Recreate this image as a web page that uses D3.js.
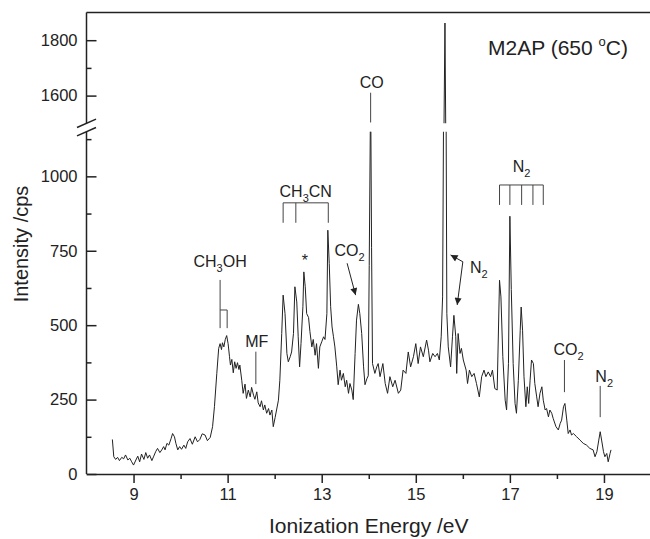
<!DOCTYPE html>
<html>
<head>
<meta charset="utf-8">
<script src="https://cdn.jsdelivr.net/npm/d3@7"></script>
<style>
	body { margin: 0; background: #fff; }
	text { font-family: "Liberation Sans", Arial, sans-serif; fill: #222; }
</style>
</head>
<body>
<svg></svg>
<script>

// spectrum: ionization energy (eV) and counts
const energy = [
	8.55, 8.58, 8.62, 8.66, 8.70, 8.75, 8.79, 8.83, 8.88, 8.92, 8.96, 9.00, 9.05, 9.09, 9.13, 9.17, 9.22, 9.26, 9.30, 9.34,
	9.39, 9.43, 9.47, 9.51, 9.56, 9.60, 9.64, 9.67, 9.71, 9.75, 9.80, 9.83, 9.87, 9.90, 9.94, 9.98, 10.02, 10.07, 10.11, 10.15,
	10.20, 10.25, 10.31, 10.36, 10.41, 10.46, 10.52, 10.57, 10.63, 10.68, 10.72, 10.77, 10.81, 10.84, 10.87, 10.89, 10.92, 10.95, 10.98, 11.01,
	11.04, 11.06, 11.09, 11.12, 11.15, 11.18, 11.21, 11.24, 11.26, 11.30, 11.33, 11.37, 11.40, 11.44, 11.48, 11.51, 11.55, 11.58, 11.62, 11.65,
	11.69, 11.72, 11.76, 11.79, 11.83, 11.87, 11.90, 11.94, 11.97, 12.01, 12.04, 12.08, 12.11, 12.15, 12.18, 12.22, 12.26, 12.29, 12.33, 12.36,
	12.40, 12.43, 12.47, 12.50, 12.53, 12.56, 12.60, 12.62, 12.65, 12.68, 12.72, 12.75, 12.79, 12.82, 12.86, 12.89, 12.93, 12.96, 13.00, 13.04,
	13.07, 13.11, 13.13, 13.16, 13.19, 13.22, 13.25, 13.28, 13.32, 13.35, 13.39, 13.42, 13.46, 13.50, 13.53, 13.57, 13.60, 13.64, 13.67, 13.71,
	13.74, 13.78, 13.81, 13.85, 13.89, 13.92, 13.96, 13.99, 14.01, 14.04, 14.06, 14.08, 14.13, 14.17, 14.20, 14.24, 14.30, 14.35, 14.40, 14.45,
	14.51, 14.56, 14.63, 14.68, 14.73, 14.79, 14.84, 14.89, 14.95, 15.00, 15.05, 15.10, 15.16, 15.23, 15.27, 15.30, 15.36, 15.41, 15.46, 15.50,
	15.54, 15.57, 15.60, 15.62, 15.64, 15.66, 15.69, 15.74, 15.78, 15.81, 15.85, 15.87, 15.90, 15.94, 15.97, 16.01, 16.07, 16.10, 16.14, 16.19,
	16.24, 16.29, 16.35, 16.40, 16.45, 16.49, 16.54, 16.59, 16.63, 16.68, 16.73, 16.78, 16.81, 16.85, 16.90, 16.93, 16.97, 17.00, 17.03, 17.07,
	17.11, 17.14, 17.18, 17.22, 17.24, 17.27, 17.30, 17.34, 17.37, 17.40, 17.43, 17.46, 17.50, 17.53, 17.57, 17.60, 17.64, 17.68, 17.71, 17.75,
	17.78, 17.82, 17.85, 17.89, 17.92, 17.98, 18.03, 18.07, 18.10, 18.14, 18.17, 18.21, 18.24, 18.28, 18.31, 18.35, 18.42, 18.49, 18.56, 18.63,
	18.70, 18.77, 18.81, 18.85, 18.89, 18.92, 18.95, 18.99, 19.02, 19.06, 19.09, 19.13, 19.15
];
const intensity = [
	116, 58, 49, 56, 45, 56, 51, 64, 47, 53, 41, 30, 47, 60, 41, 67, 49, 72, 53, 64,
	45, 60, 75, 86, 72, 81, 92, 81, 103, 97, 120, 136, 125, 103, 81, 92, 83, 97, 86, 108,
	119, 100, 125, 108, 116, 135, 131, 112, 123, 159, 226, 338, 422, 438, 418, 441, 427, 452, 465, 438,
	394, 366, 385, 340, 377, 355, 374, 351, 366, 315, 271, 302, 254, 282, 259, 291, 265, 251, 276, 239,
	226, 246, 215, 232, 204, 220, 198, 215, 159, 190, 215, 248, 315, 472, 601, 539, 405, 377, 394, 410,
	472, 629, 578, 461, 360, 438, 562, 679, 629, 539, 526, 478, 427, 452, 399, 438, 355, 427, 444, 461,
	452, 539, 819, 707, 562, 494, 461, 427, 360, 300, 349, 315, 338, 293, 315, 271, 304, 282, 250, 405,
	517, 570, 539, 472, 360, 300, 320, 330, 700, 1300, 760, 371, 338, 360, 371, 327, 371, 304, 271, 327,
	293, 315, 271, 282, 349, 338, 410, 360, 394, 438, 371, 427, 394, 450, 416, 377, 405, 394, 405, 383,
	461, 595, 1500, 1862, 1400, 539, 427, 360, 461, 533, 461, 338, 472, 405, 422, 383, 349, 304, 349, 327,
	338, 304, 259, 327, 349, 327, 343, 327, 349, 287, 282, 651, 595, 394, 248, 215, 371, 866, 620, 371,
	237, 204, 315, 483, 561, 483, 327, 226, 293, 237, 315, 383, 371, 304, 259, 226, 271, 293, 248, 215,
	220, 192, 215, 204, 187, 159, 148, 170, 181, 226, 237, 181, 136, 148, 131, 136, 125, 114, 103, 97,
	86, 81, 58, 75, 114, 142, 114, 75, 58, 69, 41, 69, 81
];

const xMajorTicks = [9, 11, 13, 15, 17, 19];
const xMinorTicks = [10, 12, 14, 16, 18, 20];
const yLowMajor = [0, 250, 500, 750, 1000];
const yLowMinor = [125, 375, 625, 875, 1125];
const yHighMajor = [1600, 1800];
const yHighMinor = [1700];

// peak assignments (energies in eV)
const ch3ohLines = [10.84, 10.99];
const mfLine = 11.60;
const ch3cnLines = [12.18, 12.45, 13.14];
const coLine = 14.04;
const n2Lines = [16.78, 17.0, 17.25, 17.49, 17.71];
const co2Line = 18.16;
const n2Line = 18.92;

const width = 650;
const height = 539;

const svg = d3.select("svg")
	.attr("width", width)
	.attr("height", height);

const x = d3.scaleLinear()
	.domain([8, 20])
	.range([86.5, 651]);

// broken y axis: lower part 0-1150, upper part 1500-1900
const yLo = d3.scaleLinear()
	.domain([0, 1150])
	.range([474, 131.7]);

const yHi = d3.scaleLinear()
	.domain([1500, 1900])
	.range([123.3, 12.5]);

const defs = svg.append("defs");

defs.append("clipPath").attr("id", "clipLo")
	.append("rect")
	.attr("x", x(8)).attr("y", yLo(1150))
	.attr("width", x(20) - x(8)).attr("height", yLo(0) - yLo(1150));

defs.append("clipPath").attr("id", "clipHi")
	.append("rect")
	.attr("x", x(8)).attr("y", yHi(1900))
	.attr("width", x(20) - x(8)).attr("height", yHi(1500) - yHi(1900));

defs.append("marker")
	.attr("id", "arrow")
	.attr("viewBox", "0 0 10 10")
	.attr("refX", 10).attr("refY", 5)
	.attr("markerWidth", 9).attr("markerHeight", 7)
	.attr("markerUnits", "userSpaceOnUse")
	.attr("orient", "auto")
	.append("path")
	.attr("d", "M0,0L10,5L0,10z")
	.attr("fill", "#222");

const points = d3.zip(energy, intensity);

svg.append("path")
	.datum(points)
	.attr("clip-path", "url(#clipLo)")
	.attr("fill", "none")
	.attr("stroke", "#222")
	.attr("stroke-width", 1)
	.attr("d", d3.line().x(d => x(d[0])).y(d => yLo(d[1])));

svg.append("path")
	.datum(points)
	.attr("clip-path", "url(#clipHi)")
	.attr("fill", "none")
	.attr("stroke", "#222")
	.attr("stroke-width", 1)
	.attr("d", d3.line().x(d => x(d[0])).y(d => yHi(d[1])));

// x axis
const xAxis = svg.append("g")
	.attr("transform", `translate(0,${yLo(0)})`)
	.call(d3.axisBottom(x)
		.tickValues(xMajorTicks)
		.tickSize(9)
		.tickSizeOuter(0)
		.tickPadding(5)
		.tickFormat(d3.format("d")));

svg.append("g")
	.attr("transform", `translate(0,${yLo(0)})`)
	.call(d3.axisBottom(x)
		.tickValues(xMinorTicks)
		.tickSize(5)
		.tickFormat(""))
	.select(".domain").remove();

// y axis, inward ticks
const yAxisLo = svg.append("g")
	.attr("transform", `translate(${x(8)},0)`)
	.call(d3.axisLeft(yLo)
		.tickValues(yLowMajor)
		.tickSize(-10)
		.tickPadding(9)
		.tickFormat(d3.format("d")));
yAxisLo.select(".domain").remove();

svg.append("g")
	.attr("transform", `translate(${x(8)},0)`)
	.call(d3.axisLeft(yLo).tickValues(yLowMinor).tickSize(-5).tickFormat(""))
	.select(".domain").remove();

const yAxisHi = svg.append("g")
	.attr("transform", `translate(${x(8)},0)`)
	.call(d3.axisLeft(yHi)
		.tickValues(yHighMajor)
		.tickSize(-10)
		.tickPadding(9)
		.tickFormat(d3.format("d")));
yAxisHi.select(".domain").remove();

svg.append("g")
	.attr("transform", `translate(${x(8)},0)`)
	.call(d3.axisLeft(yHi).tickValues(yHighMinor).tickSize(-5).tickFormat(""))
	.select(".domain").remove();

svg.selectAll(".tick line").attr("stroke", "#222").attr("stroke-width", 1.5);
svg.selectAll(".tick text")
	.style("font-size", "16.5px")
	.style("font-family", "'Liberation Sans', Arial, sans-serif")
	.attr("fill", "#222");
xAxis.select(".domain").attr("stroke", "#222").attr("stroke-width", 1.5);

// axis lines around the break
svg.append("line")
	.attr("x1", x(8)).attr("x2", x(8))
	.attr("y1", yLo(0)).attr("y2", yLo(1150))
	.attr("stroke", "#222").attr("stroke-width", 1.5);
svg.append("line")
	.attr("x1", x(8)).attr("x2", x(8))
	.attr("y1", yHi(1500)).attr("y2", yHi(1900))
	.attr("stroke", "#222").attr("stroke-width", 1.5);
svg.append("line")
	.attr("x1", x(8)).attr("x2", width)
	.attr("y1", yHi(1900)).attr("y2", yHi(1900))
	.attr("stroke", "#222").attr("stroke-width", 1.5);

const brk = svg.append("g").attr("stroke", "#222").attr("stroke-width", 1.5);
[yHi(1500), yLo(1150)].forEach(yy => {
	brk.append("line")
		.attr("x1", x(8) - 9.5).attr("y1", yy + 4.2)
		.attr("x2", x(8) + 9.5).attr("y2", yy - 4.2);
});

// axis titles
svg.append("text")
	.attr("x", (x(8) + x(20)) / 2)
	.attr("y", 533)
	.attr("text-anchor", "middle")
	.style("font-size", "21px")
	.text("Ionization Energy /eV");

svg.append("text")
	.attr("transform", `translate(28,244) rotate(-90)`)
	.attr("text-anchor", "middle")
	.style("font-size", "20px")
	.text("Intensity /cps");

// sample label
const title = svg.append("text")
	.attr("x", 488)
	.attr("y", 55)
	.style("font-size", "21px");
title.append("tspan").text("M2AP (650 ");
title.append("tspan").attr("dy", -9).style("font-size", "13px").text("o");
title.append("tspan").attr("dy", 9).text("C)");

// annotations
const ann = svg.append("g")
	.attr("stroke", "#444")
	.attr("stroke-width", 1)
	.attr("fill", "none");

function label(cx, by, main, sub, rest) {
	const t = svg.append("text")
		.attr("x", cx)
		.attr("y", by)
		.attr("text-anchor", "middle")
		.style("font-size", "16px");
	t.append("tspan").text(main);
	if (sub) {
		t.append("tspan").attr("dy", 5).style("font-size", "11px").text(sub);
		if (rest) t.append("tspan").attr("dy", -5).text(rest);
	}
	return t;
}

// CH3OH
ann.append("line")
	.attr("x1", x(ch3ohLines[0])).attr("x2", x(ch3ohLines[0]))
	.attr("y1", yLo(652)).attr("y2", yLo(490));
ann.append("path")
	.attr("d", `M${x(ch3ohLines[0])},${yLo(551)}H${x(ch3ohLines[1])}V${yLo(490)}`);
label(x(ch3ohLines[0]), yLo(695), "CH", "3", "OH");

// MF
ann.append("line")
	.attr("x1", x(mfLine)).attr("x2", x(mfLine))
	.attr("y1", yLo(411)).attr("y2", yLo(302));
label(x(mfLine) + 1, yLo(427), "MF");

// CH3CN
ann.append("path")
	.attr("d", `M${x(ch3cnLines[0])},${yLo(844)}V${yLo(911)}H${x(ch3cnLines[2])}V${yLo(844)}`);
ann.append("line")
	.attr("x1", x(ch3cnLines[1])).attr("x2", x(ch3cnLines[1]))
	.attr("y1", yLo(911)).attr("y2", yLo(844));
label((x(ch3cnLines[0]) + x(ch3cnLines[2])) / 2, yLo(931), "CH", "3", "CN");

// asterisk
label(x(12.64), yLo(698), "*");

// CO2 with arrow
label(x(13.59), yLo(732), "CO", "2");
svg.append("line")
	.attr("x1", x(13.54)).attr("y1", yLo(708))
	.attr("x2", x(13.72)).attr("y2", yLo(601))
	.attr("stroke", "#222").attr("stroke-width", 1)
	.attr("marker-end", "url(#arrow)");

// CO
ann.append("line")
	.attr("x1", x(coLine)).attr("x2", x(coLine))
	.attr("y1", yLo(1281)).attr("y2", yLo(1181));
label(x(coLine) + 1, yLo(1297), "CO");

// N2 arrows near 15.6 eV
label(x(16.34), yLo(675), "N", "2");
svg.append("line")
	.attr("x1", x(16.0)).attr("y1", yLo(713))
	.attr("x2", x(15.74)).attr("y2", yLo(736))
	.attr("stroke", "#222").attr("stroke-width", 1)
	.attr("marker-end", "url(#arrow)");
svg.append("line")
	.attr("x1", x(16.0)).attr("y1", yLo(713))
	.attr("x2", x(15.88)).attr("y2", yLo(568))
	.attr("stroke", "#222").attr("stroke-width", 1)
	.attr("marker-end", "url(#arrow)");

// N2 progression
ann.append("path")
	.attr("d", `M${x(n2Lines[0])},${yLo(904)}V${yLo(971)}H${x(n2Lines[4])}V${yLo(904)}`);
ann.selectAll(".n2").data(n2Lines.slice(1, 4)).enter().append("line")
	.attr("x1", d => x(d)).attr("x2", d => x(d))
	.attr("y1", yLo(971)).attr("y2", yLo(904));
label(x(n2Lines[2]), yLo(1015), "N", "2");

// CO2 and N2 near 18-19 eV
ann.append("line")
	.attr("x1", x(co2Line)).attr("x2", x(co2Line))
	.attr("y1", yLo(383)).attr("y2", yLo(275));
label(x(co2Line) + 4, yLo(400), "CO", "2");

ann.append("line")
	.attr("x1", x(n2Line)).attr("x2", x(n2Line))
	.attr("y1", yLo(296)).attr("y2", yLo(191));
label(x(n2Line) + 4, yLo(309), "N", "2");

</script>
</body>
</html>
